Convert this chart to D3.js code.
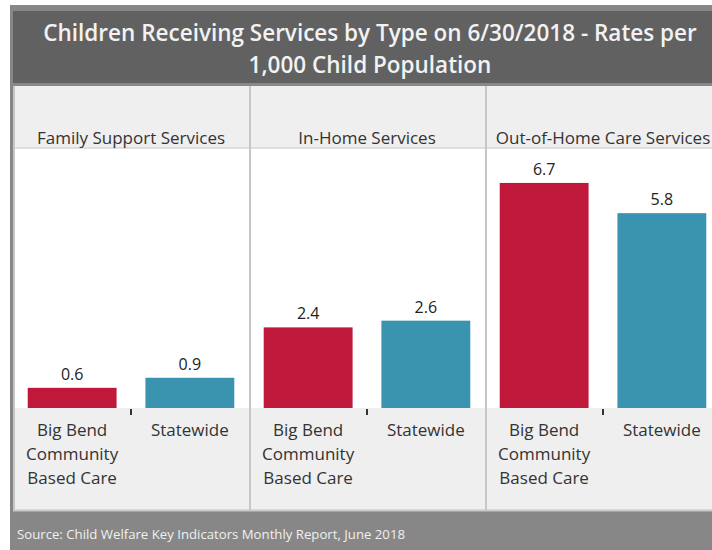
<!DOCTYPE html>
<html><head><meta charset="utf-8">
<script src="https://cdn.jsdelivr.net/npm/d3@7"></script>
<style>body{margin:0;background:#fff}svg{display:block}text{font-family:"Open Sans",sans-serif}</style>
</head><body><svg id="c" width="712" height="550"></svg>
<script>
const titleLines = ["Children Receiving Services by Type on 6/30/2018 - Rates per", "1,000 Child Population"];
const groups = ["Family Support Services", "In-Home Services", "Out-of-Home Care Services"];
const series = ["Big Bend Community Based Care", "Statewide"];
const bigBend = [0.6, 2.4, 6.7];
const statewide = [0.9, 2.6, 5.8];
const seriesLabels = [["Big Bend", "Community", "Based Care"], ["Statewide"]];
const colors = ["#c0183a", "#3a94b0"];
const source = "Source:  Child Welfare Key Indicators Monthly Report, June 2018";

(function(){
const svg = d3.select("#c");
const left = 13, panelW = 236, plotTop = 148, base = 408;
// frame
svg.append("rect").attr("x",10).attr("y",5).attr("width",702).attr("height",545).attr("fill","#878787");
svg.append("rect").attr("x",13).attr("y",11).attr("width",699).attr("height",72).attr("fill","#616161");
svg.append("rect").attr("x",13).attr("y",86).attr("width",699).attr("height",424).attr("fill","#efefef");
svg.append("line").attr("x1",13).attr("x2",712).attr("y1",510.5).attr("y2",510.5).attr("stroke","#c8c8c8").attr("stroke-width",2);
svg.append("rect").attr("x",13).attr("y",plotTop).attr("width",699).attr("height",base-plotTop).attr("fill","#fff");
svg.append("line").attr("x1",13).attr("x2",712).attr("y1",plotTop).attr("y2",plotTop).attr("stroke","#d6d6d6").attr("stroke-width",1.5);

// title
svg.append("text").attr("x",370).attr("y",41).attr("text-anchor","middle").attr("fill","#f2f2f2")
  .attr("font-size",22.5).attr("font-weight",600).selectAll("tspan").data(titleLines).join("tspan")
  .attr("x",370).attr("dy",(d,i)=>i?32:0).text(d=>d);

const x0 = d3.scaleBand().domain(groups).range([left, left+panelW*3]);
const x1 = d3.scaleBand().domain(series).range([0, panelW]).paddingInner(0.245).paddingOuter(0.125);
const y = d3.scaleLinear().domain([0, 7.74]).range([base, plotTop]);

const data = groups.map((g,i)=>({g, vals:[bigBend[i], statewide[i]]}));
const panel = svg.selectAll("g.p").data(data).join("g").attr("class","p")
  .attr("transform",d=>`translate(${x0(d.g)},0)`);

panel.append("text").attr("x",panelW/2).attr("y",144).attr("text-anchor","middle")
  .attr("font-size",17).attr("fill","#333").text(d=>d.g);

panel.selectAll("rect.bar").data(d=>d.vals.map((v,j)=>({s:series[j],v,j}))).join("rect").attr("class","bar")
  .attr("x",d=>x1(d.s)).attr("width",x1.bandwidth()).attr("y",d=>y(d.v)).attr("height",d=>base-y(d.v))
  .attr("fill",d=>colors[d.j]);

panel.selectAll("text.val").data(d=>d.vals.map((v,j)=>({s:series[j],v,j}))).join("text").attr("class","val")
  .attr("x",d=>x1(d.s)+x1.bandwidth()/2).attr("y",d=>y(d.v)-8).attr("text-anchor","middle")
  .attr("font-size",16).attr("fill","#222").text(d=>d3.format(".1f")(d.v));

panel.append("line").attr("x1",panelW/2).attr("x2",panelW/2).attr("y1",base+1).attr("y2",base+7)
  .attr("stroke","#333").attr("stroke-width",2);

panel.selectAll("text.cat").data(series).join("text").attr("class","cat")
  .attr("x",d=>x1(d)+x1.bandwidth()/2).attr("y",436).attr("text-anchor","middle")
  .attr("font-size",17).attr("fill","#333")
  .each(function(d){
    const t = d3.select(this), cx = x1(d)+x1.bandwidth()/2;
    t.selectAll("tspan").data(seriesLabels[series.indexOf(d)]).join("tspan")
      .attr("x",cx).attr("dy",(s,i)=>i?24:0).text(s=>s);
  });

// dividers
svg.selectAll("line.div").data([0,1,2]).join("line").attr("class","div")
  .attr("x1",d=>left+d*panelW+1).attr("x2",d=>left+d*panelW+1).attr("y1",86).attr("y2",510)
  .attr("stroke","#c6c6c6").attr("stroke-width",2);

svg.append("text").attr("x",17).attr("y",539).attr("font-size",13.2).attr("fill","#f0f0f0").text(source);
})();
</script></body></html>
